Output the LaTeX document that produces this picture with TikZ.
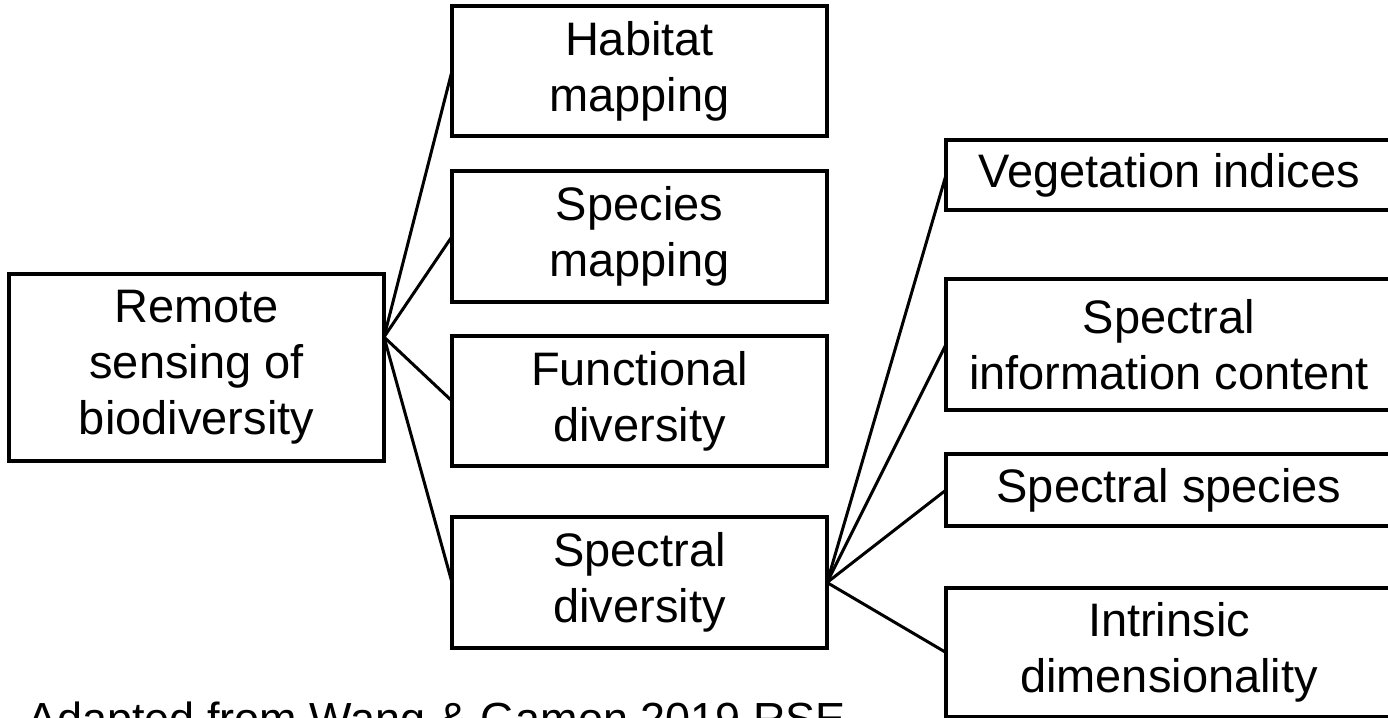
\documentclass[tikz,border=0pt]{standalone}
\usepackage{fontspec}
\setmainfont{Liberation Sans}
\usetikzlibrary{calc}
\begin{document}
\begin{tikzpicture}[x=1pt,y=-1pt,
  box/.style={draw, line width=4pt, outer sep=0pt, inner sep=0pt, align=center,
    font=\fontsize{47}{56}\selectfont},
  conn/.style={line width=3pt, line cap=round}]
\clip (0,0) rectangle (1388,717);
% left
\node[box, minimum width=375pt, minimum height=187pt] (rs) at (196.5,367.5) {Remote\\sensing of\\biodiversity};
% middle column
\node[box, minimum width=375pt, minimum height=130pt] (hab) at (639.5,71) {Habitat\\mapping};
\node[box, minimum width=375pt, minimum height=131pt] (spm) at (639.5,236.5) {Species\\mapping};
\node[box, minimum width=375pt, minimum height=130pt] (fun) at (639.5,401) {Functional\\diversity};
\node[box, minimum width=375pt, minimum height=131pt] (spd) at (639.5,582.5) {Spectral\\diversity};
% right column
\node[box, minimum width=446pt, minimum height=70pt] (veg) at (1169,175) {Vegetation indices};
\node[box, minimum width=446pt, minimum height=131pt] (sic) at (1169,344.5) {Spectral\\information content};
\node[box, minimum width=446pt, minimum height=72pt] (ssp) at (1169,490) {Spectral species};
\node[box, minimum width=446pt, minimum height=129pt] (idm) at (1169,652.5) {Intrinsic\\dimensionality};
% connectors
\coordinate (rsp) at ($(rs.north east)!0.337!(rs.south east)$);
\draw[conn] (rsp) -- (hab.west);
\draw[conn] (rsp) -- (spm.west);
\draw[conn] (rsp) -- (fun.west);
\draw[conn] (rsp) -- (spd.west);
\draw[conn] (spd.east) -- (veg.west);
\draw[conn] (spd.east) -- (sic.west);
\draw[conn] (spd.east) -- (ssp.west);
\draw[conn] (spd.east) -- (idm.west);
% caption
\node[anchor=base west, inner sep=0pt, font=\fontsize{45}{54}\selectfont] (cap) at (27,734) {Adapted from Wang \& Gamon 2019 RSE};
\end{tikzpicture}
\end{document}
